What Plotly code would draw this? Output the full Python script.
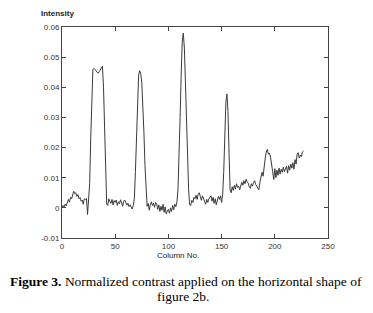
import plotly.graph_objects as go

intensity = [
    0.0002, 0.0008, 0.0003, 0.0012, 0.0006, 0.0020, 0.0028, 0.0019, 0.0035, 0.0030,
    0.0042, 0.0055, 0.0047, 0.0050, 0.0038, 0.0044, 0.0030, 0.0034, 0.0022, 0.0026,
    0.0012, 0.0030, 0.0028, 0.0031, -0.0022, 0.0040,
    0.0080, 0.0230, 0.0380, 0.0458, 0.0463, 0.0460, 0.0455, 0.0450, 0.0447, 0.0452,
    0.0460, 0.0468, 0.0470, 0.0400, 0.0250, 0.0100,
    0.0012, 0.0008, 0.0030, 0.0022, 0.0015, 0.0028, 0.0010, 0.0024,
    0.0018, 0.0026, 0.0008, 0.0020, 0.0014, 0.0027, 0.0012, 0.0005, 0.0022, 0.0026,
    0.0018, 0.0009, 0.0015, 0.0004, 0.0010, 0.0002, -0.0004, 0.0008,
    0.0030, 0.0120, 0.0250, 0.0370, 0.0440, 0.0455, 0.0445, 0.0415, 0.0350, 0.0250,
    0.0140, 0.0050, 0.0005,
    0.0015, -0.0008, 0.0010, 0.0020, 0.0008, 0.0015, 0.0002, 0.0018, 0.0012,
    -0.0005, 0.0010, -0.0012, 0.0005, -0.0008, 0.0012, -0.0015, 0.0003, -0.0020, -0.0010,
    -0.0005, -0.0018, 0.0000, -0.0012, 0.0008, -0.0006, 0.0012, 0.0004, 0.0020,
    0.0060, 0.0160, 0.0300, 0.0440, 0.0550, 0.0580, 0.0530, 0.0420, 0.0290, 0.0160,
    0.0060, 0.0010,
    0.0008, 0.0025, 0.0018, 0.0035, 0.0030, 0.0042, 0.0028, 0.0045, 0.0050,
    0.0038, 0.0025, 0.0040, 0.0032, 0.0020, 0.0012, 0.0028, 0.0018, 0.0030, 0.0034,
    0.0040, 0.0022, 0.0035, 0.0015, 0.0030, 0.0010, 0.0025, 0.0038, 0.0028, 0.0040,
    0.0018, 0.0045,
    0.0120, 0.0250, 0.0350, 0.0378, 0.0320, 0.0180, 0.0060,
    0.0050, 0.0070, 0.0058, 0.0075, 0.0062, 0.0080, 0.0068, 0.0072, 0.0060, 0.0078, 0.0085,
    0.0075, 0.0090, 0.0080, 0.0095, 0.0087, 0.0082, 0.0070, 0.0065, 0.0080, 0.0072,
    0.0085, 0.0090, 0.0078, 0.0072, 0.0065, 0.0060, 0.0085, 0.0100, 0.0118, 0.0105,
    0.0140, 0.0165, 0.0185, 0.0194, 0.0178, 0.0182, 0.0168, 0.0150, 0.0120, 0.0094,
    0.0130, 0.0100, 0.0125, 0.0108, 0.0132, 0.0112, 0.0128, 0.0118, 0.0135, 0.0120,
    0.0130, 0.0138, 0.0115, 0.0140, 0.0125, 0.0145, 0.0132, 0.0150, 0.0128, 0.0160,
    0.0145, 0.0178, 0.0183, 0.0165, 0.0175, 0.0170, 0.0186, 0.0189,
]
column = list(range(len(intensity)))

x_ticks = [0, 50, 100, 150, 200, 250]
y_ticks = [-0.01, 0, 0.01, 0.02, 0.03, 0.04, 0.05, 0.06]
y_tick_text = ["-0.01", "0", "0.01", "0.02", "0.03", "0.04", "0.05", "0.06"]

fig = go.Figure()
fig.add_trace(go.Scatter(x=column, y=intensity, mode="lines",
                         line=dict(color="#3a3a3a", width=1), showlegend=False))

axis_common = dict(showline=True, linecolor="#444", linewidth=1, mirror="ticks",
                   ticks="inside", ticklen=4, tickcolor="#444", showgrid=False,
                   zeroline=False, automargin=False,
                   tickfont=dict(family="Liberation Sans", size=8, color="#333"))

fig.update_xaxes(range=[0, 250], tickvals=x_ticks, **axis_common)
fig.update_yaxes(range=[-0.01, 0.06], tickvals=y_ticks, ticktext=y_tick_text, **axis_common)

fig.add_annotation(text="<b>Intensity</b>", xref="paper", yref="paper", x=-0.0866, y=1.062,
                   xanchor="left", yanchor="middle", showarrow=False,
                   font=dict(family="Liberation Sans", size=8, color="#222"))
fig.add_annotation(text="Column No.", xref="paper", yref="paper", x=0.437, y=-0.085,
                   xanchor="center", yanchor="middle", showarrow=False,
                   font=dict(family="Liberation Sans", size=8, color="#222"))
fig.add_annotation(text="<b>Figure 3.</b> Normalized contrast applied on the horizontal shape of",
                   xref="paper", yref="paper", x=0.467, y=-0.2085, xanchor="center", yanchor="middle",
                   showarrow=False,
                   font=dict(family="Liberation Serif", size=13.5, color="#000"))
fig.add_annotation(text="figure 2b.",
                   xref="paper", yref="paper", x=0.455, y=-0.2796, xanchor="center", yanchor="middle",
                   showarrow=False,
                   font=dict(family="Liberation Serif", size=13.5, color="#000"))

fig.update_layout(width=365, height=305, margin=dict(l=54, r=45, t=19, b=75),
                  paper_bgcolor="white", plot_bgcolor="white")

fig.write_html("out.html")
